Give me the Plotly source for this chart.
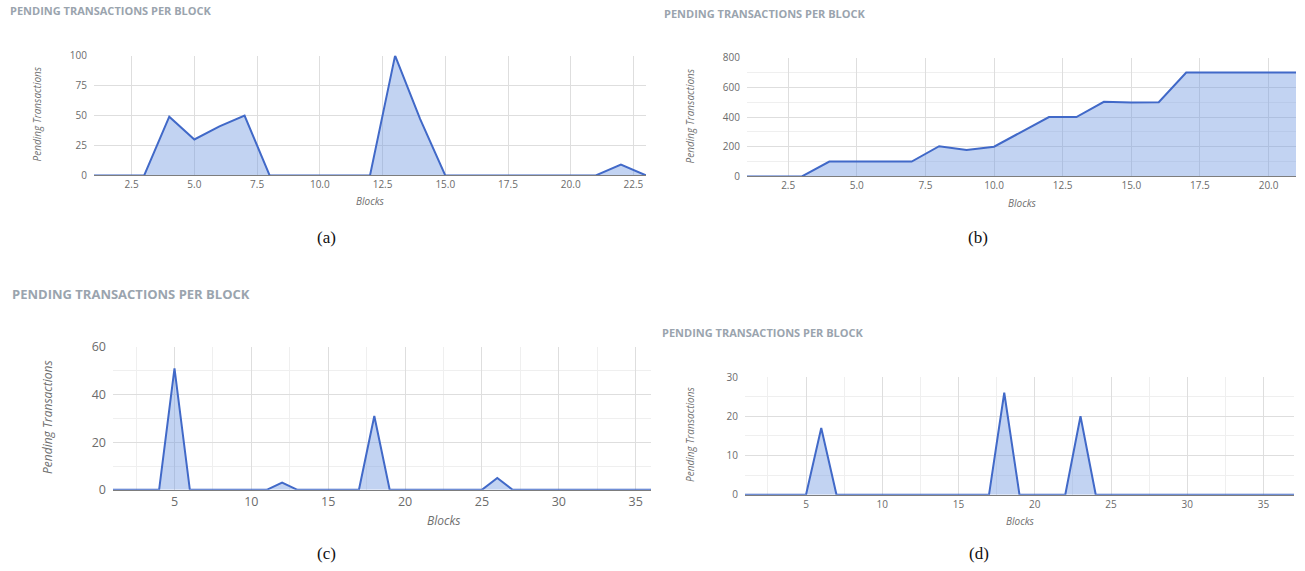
import plotly.graph_objects as go

# Pending transactions per block, four runs
blocks_a = list(range(1, 24))
pending_a = [0, 0, 0, 49, 30, 41, 50, 0, 0, 0, 0, 0, 100, 47, 0, 0, 0, 0, 0, 0, 0, 9, 0]

blocks_b = list(range(1, 22))
pending_b = [0, 0, 0, 100, 100, 100, 100, 203, 177, 200, 300, 400, 400, 502, 497, 500, 700, 700, 700, 700, 700]

blocks_c = list(range(1, 37))
pending_c = [0, 0, 0, 0, 51, 0, 0, 0, 0, 0, 0, 3, 0, 0, 0, 0, 0, 31, 0, 0,
             0, 0, 0, 0, 0, 5, 0, 0, 0, 0, 0, 0, 0, 0, 0, 0]

blocks_d = list(range(1, 38))
pending_d = [0, 0, 0, 0, 0, 17, 0, 0, 0, 0, 0, 0, 0, 0, 0, 0, 0, 26, 0, 0,
             0, 0, 20, 0, 0, 0, 0, 0, 0, 0, 0, 0, 0, 0, 0, 0, 0]

captions = ["(a)", "(b)", "(c)", "(d)"]
chart_title = "PENDING TRANSACTIONS PER BLOCK"
x_title = "Blocks"
y_title = "Pending Transactions"

W, H = 1305, 571
LINE = "#4169c8"
FILL = "rgba(110,150,225,0.42)"
GRID = "#dedede"
MINOR = "#efefef"
TICK = "#6b6b6b"
TITLE = "#9aa4ae"
FONT = "Open Sans"

# vertical layout is laid out on a slightly taller canvas and shifted up
Y_SCALE, Y_SHIFT = 0.972, 8.3


def px(x):
    return x / W


def py(y):
    return 1 - ((y - Y_SHIFT) / Y_SCALE) / H


panels = [
    dict(x=blocks_a, y=pending_a, dom=(94, 646, 55, 175), xr=[1, 23], yr=[0, 100],
         xdt=2.5, xfmt=".1f", ydt=25, xminor=None, yminor=None, tf=10, af=10,
         title=(8, 10, 11), ylab=(37, 114), xlab=(370, 201), cap=(326, 237)),
    dict(x=blocks_b, y=pending_b, dom=(747, 1296, 57, 176), xr=[1, 21], yr=[0, 800],
         xdt=2.5, xfmt=".1f", ydt=200, xminor=None, yminor=100, tf=10, af=10,
         title=(662, 13, 11), ylab=(690, 116), xlab=(1022, 203), cap=(978, 237)),
    dict(x=blocks_c, y=pending_c, dom=(113, 651, 347, 490), xr=[1, 36], yr=[0, 60],
         xdt=5, xfmt="d", ydt=20, xminor=2.5, yminor=10, tf=12.5, af=12,
         title=(10, 294, 13), ylab=(48, 417), xlab=(443, 521), cap=(326, 554)),
    dict(x=blocks_d, y=pending_d, dom=(745, 1294, 377, 495), xr=[1, 37], yr=[0, 30],
         xdt=5, xfmt="d", ydt=10, xminor=2.5, yminor=5, tf=10, af=10,
         title=(660, 332, 11), ylab=(690, 435), xlab=(1020, 521), cap=(979, 554)),
]

fig = go.Figure()
annotations = []

for i, p in enumerate(panels):
    n = "" if i == 0 else str(i + 1)
    xa, ya = "x" + n, "y" + n
    fig.add_trace(go.Scatter(
        x=p["x"], y=p["y"], xaxis=xa, yaxis=ya, mode="lines",
        line=dict(color=LINE, width=2), fill="tozeroy", fillcolor=FILL,
        showlegend=False, hoverinfo="x+y",
    ))
    l, r, t, b = p["dom"]
    xaxis = dict(
        domain=[px(l), px(r)], range=p["xr"], anchor=ya, tick0=0, dtick=p["xdt"],
        tickformat=p["xfmt"], showgrid=True, gridcolor=GRID, gridwidth=1,
        zeroline=False, showline=True, linecolor="#7d7d7d", linewidth=1,
        ticks="", tickfont=dict(family=FONT, size=p["tf"], color=TICK),
    )
    if p["xminor"]:
        xaxis["minor"] = dict(dtick=p["xminor"], tick0=0, showgrid=True,
                              gridcolor=MINOR, gridwidth=1)
    yaxis = dict(
        domain=[py(b), py(t)], range=p["yr"], anchor=xa, tick0=0, dtick=p["ydt"],
        showgrid=True, gridcolor=GRID, gridwidth=1, zeroline=False,
        showline=False, ticks="", ticklabelstandoff=6,
        tickfont=dict(family=FONT, size=p["tf"], color=TICK),
    )
    if p["yminor"]:
        yaxis["minor"] = dict(dtick=p["yminor"], tick0=0, showgrid=True,
                              gridcolor=MINOR, gridwidth=1)
    fig.layout["xaxis" + n] = xaxis
    fig.layout["yaxis" + n] = yaxis

    tx, ty, ts = p["title"]
    annotations.append(dict(
        text="<b>" + chart_title + "</b>", x=px(tx), y=py(ty), xref="paper", yref="paper",
        xanchor="left", yanchor="middle", showarrow=False,
        font=dict(family=FONT, size=ts, color=TITLE),
    ))
    lx, ly = p["ylab"]
    annotations.append(dict(
        text="<i>" + y_title + "</i>", x=px(lx), y=py(ly), xref="paper", yref="paper",
        xanchor="center", yanchor="middle", textangle=-90, showarrow=False,
        font=dict(family=FONT, size=p["af"], color="#6f6f6f"),
    ))
    bx, by = p["xlab"]
    annotations.append(dict(
        text="<i>" + x_title + "</i>", x=px(bx), y=py(by), xref="paper", yref="paper",
        xanchor="center", yanchor="middle", showarrow=False,
        font=dict(family=FONT, size=p["af"], color="#6f6f6f"),
    ))
    cx, cy = p["cap"]
    annotations.append(dict(
        text=captions[i], x=px(cx), y=py(cy), xref="paper", yref="paper",
        xanchor="center", yanchor="middle", showarrow=False,
        font=dict(family="Liberation Serif", size=17, color="#111111"),
    ))

fig.update_layout(
    width=W, height=H, margin=dict(l=0, r=0, t=0, b=0),
    paper_bgcolor="white", plot_bgcolor="white",
    annotations=annotations,
)

fig.write_html("out.html", config={"displayModeBar": False})
